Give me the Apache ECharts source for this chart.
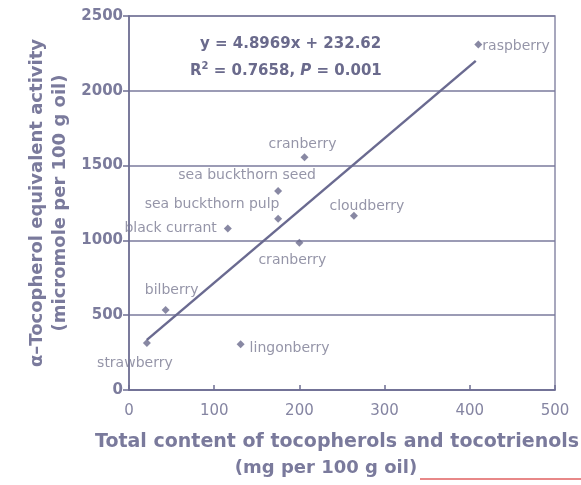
<!DOCTYPE html>
<html><head><meta charset="utf-8">
<script src="https://cdn.jsdelivr.net/npm/echarts@6/dist/echarts.min.js"></script>
<style>html,body{margin:0;padding:0;background:#fff}#c{width:581px;height:485px}</style>
</head><body><div id="c"></div>
<script>
const berries = ['raspberry','cranberry','sea buckthorn seed','sea buckthorn pulp','black currant','cloudberry','cranberry','bilberry','lingonberry','strawberry'];
const totalContent = [410, 206, 175, 175, 116, 264, 200, 43, 131, 21];
const activity = [2310, 1555, 1330, 1145, 1080, 1165, 985, 535, 305, 315];
const trendX = [21, 407];
const trendY = [335, 2200];
const xTicks = [0, 100, 200, 300, 400, 500];
const yTicks = [0, 500, 1000, 1500, 2000, 2500];

const C = '#6d6d92';
const labelPlace = [
  ['right', [-5, 2]], ['top', [-2, 3]], ['top', [-31, 0]], ['top', [-66, 2]],
  ['left', [-2, 0]], ['top', [13, 7]], ['bottom', [-7, 2]], ['top', [6, -4]],
  ['right', [0, 4]], ['bottom', [-12, 4]]
];
const pts = berries.map((b, i) => ({
  value: [totalContent[i], activity[i]], name: b,
  label: { show: true, position: labelPlace[i][0], offset: labelPlace[i][1], formatter: b }
}));

const chart = echarts.init(document.getElementById('c'));
chart.setOption({
  animation: false,
  backgroundColor: '#fff',
  grid: { left: 129, right: 26, top: 16, bottom: 95, show: true, borderColor: '#8a8aa8', borderWidth: 1.5, backgroundColor: 'transparent' },
  xAxis: {
    type: 'value', min: xTicks[0], max: xTicks[xTicks.length-1], interval: 100,
    axisLine: { show: true, lineStyle: { color: C, width: 1.5 } },
    axisTick: { show: true, inside: true, length: 5, lineStyle: { color: C, width: 1.5 } },
    axisLabel: { color: '#8585a2', fontFamily: 'DejaVu Sans', fontSize: 15, margin: 14 },
    splitLine: { show: false }
  },
  yAxis: {
    type: 'value', min: yTicks[0], max: yTicks[yTicks.length-1], interval: 500,
    axisLine: { show: true, lineStyle: { color: C, width: 1.5 } },
    axisTick: { show: true, length: 6, lineStyle: { color: C, width: 1.5 } },
    axisLabel: { color: '#7b7b9c', fontFamily: 'DejaVu Sans', fontWeight: 'bold', fontSize: 15, margin: 6, formatter: v => String(v) },
    splitLine: { show: true, lineStyle: { color: '#7a7a9c', width: 1.5 } }
  },
  series: [
    {
      type: 'line', data: trendX.map((x, i) => [x, trendY[i]]), symbol: 'none',
      lineStyle: { color: '#6a6a90', width: 2.5 }, z: 2
    },
    {
      type: 'scatter', data: pts, symbol: 'diamond', symbolSize: 8,
      itemStyle: { color: '#6a6a8c' },
      label: { color: '#7a7a92', fontFamily: 'DejaVu Sans', fontSize: 14, distance: 5 }, z: 3
    }
  ],
  graphic: [
    { type: 'text', left: 200, top: 37, style: { text: 'y = 4.8969x + 232.62', font: 'bold 15px DejaVu Sans', fill: '#6a6a8c' } },
    { type: 'text', left: 190, top: 61, style: {
        text: '{b|R}{s|2}{b| = 0.7658, }{i|P}{b| = 0.001}',
        rich: {
          b: { font: 'bold 15px DejaVu Sans', fill: '#6a6a8c', verticalAlign: 'bottom' },
          s: { font: 'bold 10px DejaVu Sans', fill: '#6a6a8c', verticalAlign: 'top', padding: [0, 0, 8, 0] },
          i: { font: 'italic bold 15px DejaVu Sans', fill: '#6a6a8c', verticalAlign: 'bottom' }
        }
    } },
    { type: 'text', x: 37, y: 203, rotation: Math.PI / 2, style: {
        text: 'α–Tocopherol equivalent activity', font: 'bold 18px DejaVu Sans', fill: '#7a7a9c', align: 'center', verticalAlign: 'middle' } },
    { type: 'text', x: 60, y: 203, rotation: Math.PI / 2, style: {
        text: '(micromole per 100 g oil)', font: 'bold 18px DejaVu Sans', fill: '#7a7a9c', align: 'center', verticalAlign: 'middle' } },
    { type: 'text', x: 337, y: 442, style: {
        text: 'Total content of tocopherols and tocotrienols', font: 'bold 19px DejaVu Sans', fill: '#7a7a9c', align: 'center', verticalAlign: 'middle' } },
    { type: 'text', x: 326, y: 468, style: {
        text: '(mg per 100 g oil)', font: 'bold 18px DejaVu Sans', fill: '#7a7a9c', align: 'center', verticalAlign: 'middle' } },
    { type: 'line', shape: { x1: 420, y1: 479, x2: 581, y2: 479 }, style: { stroke: '#e06060', lineWidth: 1.5 } }
  ]
});
</script></body></html>
